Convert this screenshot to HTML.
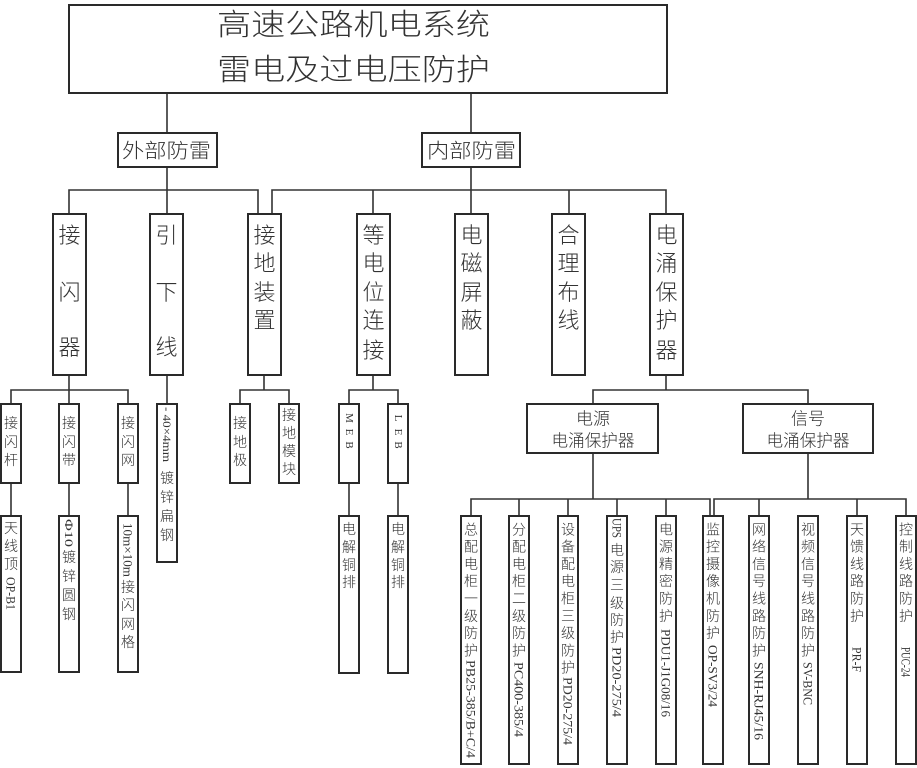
<!DOCTYPE html>
<html>
<head>
<meta charset="utf-8">
<style>
html,body{margin:0;padding:0;background:#fff;}
svg{display:block;}
text{font-family:"Liberation Sans","Noto Sans CJK SC",sans-serif;fill:#333;font-weight:300;}
.lat{font-family:"Liberation Serif","Noto Sans CJK SC",serif;font-weight:normal;}
</style>
</head>
<body>
<svg width="917" height="768" viewBox="0 0 917 768" xmlns="http://www.w3.org/2000/svg">
<rect x="0" y="0" width="917" height="768" fill="#fff"/>

<!-- connectors -->
<g stroke="#333" stroke-width="1.6" fill="none">
<path d="M167 93 V133 M167 167 V214"/>
<path d="M471 93 V133 M471 167 V214"/>
<path d="M69 214 V190 H258 V214"/>
<path d="M272 214 V190 H666 V214"/>
<path d="M373 190 V214 M569 190 V214"/>
<path d="M69 375 V404 M11 404 V390 H128 V404"/>
<path d="M167 375 V404"/>
<path d="M264 375 V390 M240 404 V390 H289 V404"/>
<path d="M373 375 V390 M349 404 V390 H398 V404"/>
<path d="M666 375 V390 M593 404 V390 H808 V404"/>
<path d="M11 483 V516 M69 483 V516 M128 483 V516 M349 483 V516 M398 483 V516"/>
<path d="M593 453 V499 M471 516 V499 H710 V516 M519 499 V516 M568 499 V516 M617 499 V516 M666 499 V516"/>
<path d="M808 453 V499 M714 516 V499 H906 V516 M759 499 V516 M857 499 V516"/>
</g>

<!-- boxes -->
<g stroke="#2a2a2a" stroke-width="2" fill="#fff">
<rect x="69" y="5" width="598" height="88"/>
<rect x="118" y="133" width="99" height="34"/>
<rect x="422" y="133" width="98" height="34"/>
<rect x="53" y="214" width="33" height="161"/>
<rect x="150" y="214" width="33" height="161"/>
<rect x="248" y="214" width="33" height="161"/>
<rect x="357" y="214" width="33" height="161"/>
<rect x="455" y="214" width="33" height="161"/>
<rect x="552" y="214" width="33" height="161"/>
<rect x="650" y="214" width="33" height="161"/>
<rect x="1" y="404" width="20" height="79"/>
<rect x="59" y="404" width="20" height="79"/>
<rect x="118" y="404" width="20" height="79"/>
<rect x="157" y="404" width="20" height="158"/>
<rect x="230" y="404" width="20" height="79"/>
<rect x="279" y="404" width="20" height="79"/>
<rect x="339" y="404" width="20" height="79"/>
<rect x="388" y="404" width="20" height="79"/>
<rect x="527" y="404" width="131" height="49"/>
<rect x="743" y="404" width="130" height="49"/>
<rect x="1" y="516" width="20" height="156"/>
<rect x="59" y="516" width="20" height="156"/>
<rect x="118" y="516" width="20" height="156"/>
<rect x="339" y="516" width="20" height="157"/>
<rect x="388" y="516" width="20" height="157"/>
<rect x="461" y="516" width="20" height="248"/>
<rect x="509" y="516" width="20" height="248"/>
<rect x="558" y="516" width="20" height="248"/>
<rect x="607" y="516" width="20" height="248"/>
<rect x="656" y="516" width="20" height="248"/>
<rect x="703" y="516" width="20" height="248"/>
<rect x="749" y="516" width="20" height="248"/>
<rect x="798" y="516" width="20" height="248"/>
<rect x="847" y="516" width="20" height="248"/>
<rect x="896" y="516" width="20" height="248"/>
</g>

<!-- title -->
<text x="217" y="35" font-size="30" textLength="273" lengthAdjust="spacingAndGlyphs">高速公路机电系统</text>
<text x="217" y="80" font-size="30" textLength="273" lengthAdjust="spacingAndGlyphs">雷电及过电压防护</text>

<text x="122" y="157.5" font-size="20" textLength="89" lengthAdjust="spacingAndGlyphs">外部防雷</text>
<text x="427" y="157.5" font-size="20" textLength="89" lengthAdjust="spacingAndGlyphs">内部防雷</text>

<!-- level 2 -->
<g font-size="22" text-anchor="middle">
<text><tspan x="69.5" y="243">接</tspan><tspan x="69.5" y="300">闪</tspan><tspan x="69.5" y="355">器</tspan></text>
<text><tspan x="166.5" y="243">引</tspan><tspan x="166.5" y="300">下</tspan><tspan x="166.5" y="355">线</tspan></text>
<text><tspan x="264.5" y="243">接</tspan><tspan x="264.5" y="271">地</tspan><tspan x="264.5" y="300">装</tspan><tspan x="264.5" y="328">置</tspan></text>
<text><tspan x="373.5" y="243">等</tspan><tspan x="373.5" y="271">电</tspan><tspan x="373.5" y="300">位</tspan><tspan x="373.5" y="328">连</tspan><tspan x="373.5" y="358">接</tspan></text>
<text><tspan x="471.5" y="243">电</tspan><tspan x="471.5" y="271">磁</tspan><tspan x="471.5" y="300">屏</tspan><tspan x="471.5" y="328">蔽</tspan></text>
<text><tspan x="568.5" y="243">合</tspan><tspan x="568.5" y="271">理</tspan><tspan x="568.5" y="300">布</tspan><tspan x="568.5" y="328">线</tspan></text>
<text><tspan x="666.5" y="243">电</tspan><tspan x="666.5" y="271">涌</tspan><tspan x="666.5" y="300">保</tspan><tspan x="666.5" y="328">护</tspan><tspan x="666.5" y="358">器</tspan></text>
</g>

<!-- level 3 -->
<g font-size="14" text-anchor="middle">
<text><tspan x="11" y="428">接</tspan><tspan x="11" y="447">闪</tspan><tspan x="11" y="465">杆</tspan></text>
<text><tspan x="69" y="428">接</tspan><tspan x="69" y="447">闪</tspan><tspan x="69" y="465">带</tspan></text>
<text><tspan x="128" y="428">接</tspan><tspan x="128" y="447">闪</tspan><tspan x="128" y="465">网</tspan></text>
<text><tspan x="240" y="428">接</tspan><tspan x="240" y="447">地</tspan><tspan x="240" y="465">极</tspan></text>
<text><tspan x="289" y="420">接</tspan><tspan x="289" y="438">地</tspan><tspan x="289" y="456">模</tspan><tspan x="289" y="474">块</tspan></text>
</g>
<g font-size="11" text-anchor="middle" dominant-baseline="central">
<text class="lat" transform="translate(349,418) rotate(90)">M</text>
<text class="lat" transform="translate(349,432) rotate(90)">E</text>
<text class="lat" transform="translate(349,445) rotate(90)">B</text>
<text class="lat" transform="translate(398,418) rotate(90)">L</text>
<text class="lat" transform="translate(398,432) rotate(90)">E</text>
<text class="lat" transform="translate(398,445) rotate(90)">B</text>
</g>

<g font-size="17" text-anchor="middle">
<text x="593" y="424.5">电源</text>
<text x="593" y="446.5" textLength="83" lengthAdjust="spacingAndGlyphs">电涌保护器</text>
<text x="808" y="424.5">信号</text>
<text x="808" y="446.5" textLength="83" lengthAdjust="spacingAndGlyphs">电涌保护器</text>
</g>

<!-- level 4 left -->
<g font-size="14" text-anchor="middle">
<text><tspan x="11" y="533">天</tspan><tspan x="11" y="551">线</tspan><tspan x="11" y="569">顶</tspan></text>
<text><tspan x="69" y="562">镀</tspan><tspan x="69" y="581">锌</tspan><tspan x="69" y="600">圆</tspan><tspan x="69" y="619">钢</tspan></text>
<text><tspan x="128" y="592">接</tspan><tspan x="128" y="610">闪</tspan><tspan x="128" y="629">网</tspan><tspan x="128" y="647">格</tspan></text>
<text><tspan x="167" y="483">镀</tspan><tspan x="167" y="502">锌</tspan><tspan x="167" y="521">扁</tspan><tspan x="167" y="540">钢</tspan></text>
<text><tspan x="349" y="534">电</tspan><tspan x="349" y="552">解</tspan><tspan x="349" y="570">铜</tspan><tspan x="349" y="587">排</tspan></text>
<text><tspan x="398" y="534">电</tspan><tspan x="398" y="552">解</tspan><tspan x="398" y="570">铜</tspan><tspan x="398" y="587">排</tspan></text>
</g>
<g font-size="13" dominant-baseline="central">
<text class="lat" transform="translate(11,577) rotate(90)" textLength="33" lengthAdjust="spacingAndGlyphs">OP-B1</text>
<text class="lat" font-weight="bold" font-size="12" transform="translate(69,519) rotate(90)" textLength="28" lengthAdjust="spacingAndGlyphs">Φ10</text>
<text class="lat" transform="translate(128,523) rotate(90)" textLength="54" lengthAdjust="spacingAndGlyphs">10m×10m</text>
<text class="lat" font-weight="bold" font-size="12" transform="translate(167,407) rotate(90)" textLength="55" lengthAdjust="spacingAndGlyphs">- 40×4mm</text>
</g>

<!-- level 4 right -->
<g font-size="14" text-anchor="middle">
<text><tspan x="471" y="534.3">总</tspan><tspan x="471" y="551.6">配</tspan><tspan x="471" y="568.9">电</tspan><tspan x="471" y="586.2">柜</tspan><tspan x="471" y="603.5">一</tspan><tspan x="471" y="620.8">级</tspan><tspan x="471" y="638.1">防</tspan><tspan x="471" y="655.4">护</tspan></text>
<text><tspan x="519" y="534.3">分</tspan><tspan x="519" y="551.6">配</tspan><tspan x="519" y="568.9">电</tspan><tspan x="519" y="586.2">柜</tspan><tspan x="519" y="603.5">二</tspan><tspan x="519" y="620.8">级</tspan><tspan x="519" y="638.1">防</tspan><tspan x="519" y="655.4">护</tspan></text>
<text><tspan x="568" y="534.3">设</tspan><tspan x="568" y="551.6">备</tspan><tspan x="568" y="568.9">配</tspan><tspan x="568" y="586.2">电</tspan><tspan x="568" y="603.5">柜</tspan><tspan x="568" y="620.8">三</tspan><tspan x="568" y="638.1">级</tspan><tspan x="568" y="655.4">防</tspan><tspan x="568" y="672.7">护</tspan></text>
<text><tspan x="617" y="555">电</tspan><tspan x="617" y="572">源</tspan><tspan x="617" y="590">三</tspan><tspan x="617" y="608">级</tspan><tspan x="617" y="625">防</tspan><tspan x="617" y="642">护</tspan></text>
<text><tspan x="666" y="534.3">电</tspan><tspan x="666" y="551.6">源</tspan><tspan x="666" y="568.9">精</tspan><tspan x="666" y="586.2">密</tspan><tspan x="666" y="603.5">防</tspan><tspan x="666" y="620.8">护</tspan></text>
<text><tspan x="713" y="534.3">监</tspan><tspan x="713" y="551.6">控</tspan><tspan x="713" y="568.9">摄</tspan><tspan x="713" y="586.2">像</tspan><tspan x="713" y="603.5">机</tspan><tspan x="713" y="620.8">防</tspan><tspan x="713" y="638.1">护</tspan></text>
<text><tspan x="759" y="534.3">网</tspan><tspan x="759" y="551.6">络</tspan><tspan x="759" y="568.9">信</tspan><tspan x="759" y="586.2">号</tspan><tspan x="759" y="603.5">线</tspan><tspan x="759" y="620.8">路</tspan><tspan x="759" y="638.1">防</tspan><tspan x="759" y="655.4">护</tspan></text>
<text><tspan x="808" y="534.3">视</tspan><tspan x="808" y="551.6">频</tspan><tspan x="808" y="568.9">信</tspan><tspan x="808" y="586.2">号</tspan><tspan x="808" y="603.5">线</tspan><tspan x="808" y="620.8">路</tspan><tspan x="808" y="638.1">防</tspan><tspan x="808" y="655.4">护</tspan></text>
<text><tspan x="857" y="534.3">天</tspan><tspan x="857" y="551.6">馈</tspan><tspan x="857" y="568.9">线</tspan><tspan x="857" y="586.2">路</tspan><tspan x="857" y="603.5">防</tspan><tspan x="857" y="620.8">护</tspan></text>
<text><tspan x="906" y="534.3">控</tspan><tspan x="906" y="551.6">制</tspan><tspan x="906" y="568.9">线</tspan><tspan x="906" y="586.2">路</tspan><tspan x="906" y="603.5">防</tspan><tspan x="906" y="620.8">护</tspan></text>
</g>
<g font-size="13" dominant-baseline="central">
<text class="lat" transform="translate(471,660) rotate(90)" textLength="98" lengthAdjust="spacingAndGlyphs">PB25-385/B+C/4</text>
<text class="lat" transform="translate(519,662) rotate(90)" textLength="75" lengthAdjust="spacingAndGlyphs">PC400-385/4</text>
<text class="lat" transform="translate(568,677) rotate(90)" textLength="68" lengthAdjust="spacingAndGlyphs">PD20-275/4</text>
<text class="lat" transform="translate(617,518) rotate(90)" textLength="20" lengthAdjust="spacingAndGlyphs">UPS</text>
<text class="lat" transform="translate(617,647) rotate(90)" textLength="70" lengthAdjust="spacingAndGlyphs">PD20-275/4</text>
<text class="lat" transform="translate(666,629) rotate(90)" textLength="88" lengthAdjust="spacingAndGlyphs">PDU1-J1G08/16</text>
<text class="lat" transform="translate(713,645) rotate(90)" textLength="62" lengthAdjust="spacingAndGlyphs">OP-SV3/24</text>
<text class="lat" transform="translate(759,662) rotate(90)" textLength="78" lengthAdjust="spacingAndGlyphs">SNH-RJ45/16</text>
<text class="lat" transform="translate(808,662) rotate(90)" textLength="43" lengthAdjust="spacingAndGlyphs">SV-BNC</text>
<text class="lat" transform="translate(857,647) rotate(90)" textLength="25" lengthAdjust="spacingAndGlyphs">PR-F</text>
<text class="lat" transform="translate(906,647) rotate(90)" textLength="30" lengthAdjust="spacingAndGlyphs">PUC-24</text>
</g>
</svg>
</body>
</html>
